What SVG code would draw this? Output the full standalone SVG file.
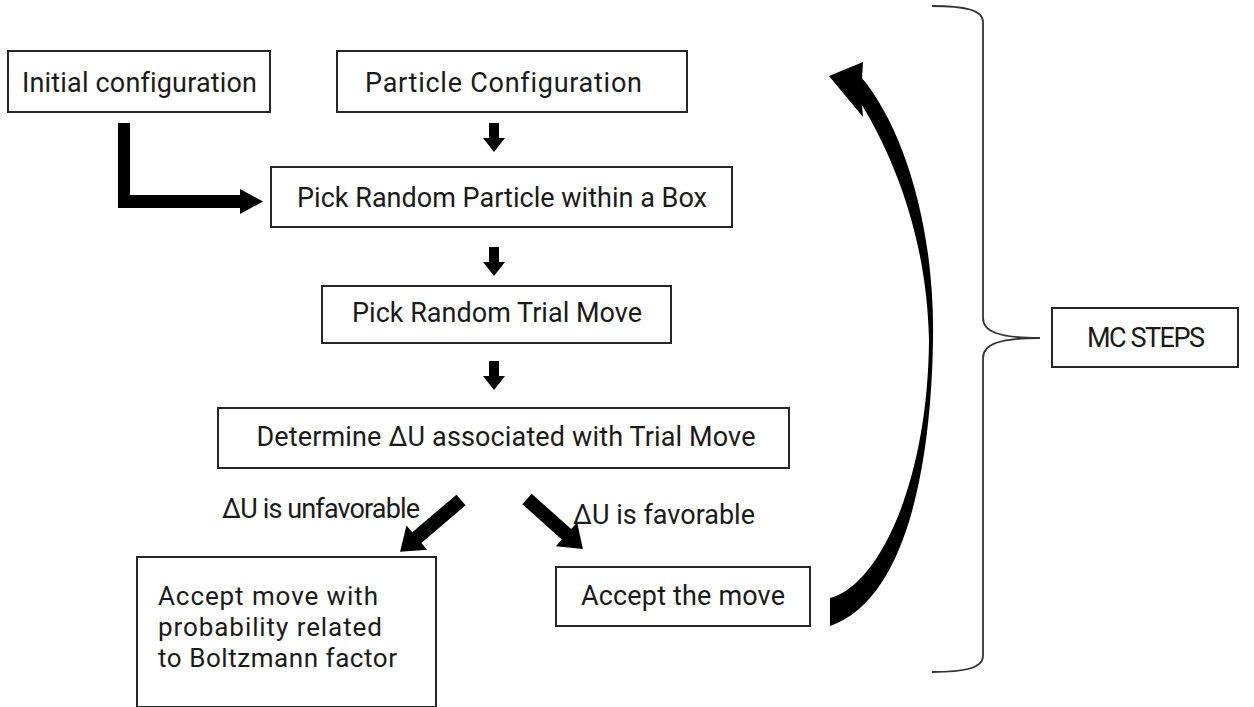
<svg xmlns="http://www.w3.org/2000/svg" width="1254" height="707" viewBox="0 0 1254 707">
<style>
.box{fill:#fff;stroke:#262626;stroke-width:2}
.t{font-family:Roboto,"Liberation Sans",sans-serif;font-size:27px;fill:#1a1a1a;font-variant-ligatures:none}
.t2{font-family:Roboto,"Liberation Sans",sans-serif;font-size:26px;fill:#1a1a1a;font-variant-ligatures:none}
.arr{fill:#000}
.brace{fill:none;stroke:#333;stroke-width:1.8}
</style>
<defs>
<path id="down" d="M-5,0 L5,0 L5,15 L11,15 L0,29 L-11,15 L-5,15 Z"/>
</defs>
<rect width="1254" height="707" fill="#fff"/>
<g id="connectors">
<path class="arr" d="M118,123 L130,123 L130,195 L240,195 L240,189 L263,201.5 L240,214 L240,208 L118,208 Z"/>
<use href="#down" x="494" y="123" class="arr"/>
<use href="#down" x="494" y="247" class="arr"/>
<use href="#down" x="494" y="361" class="arr"/>
<path class="arr" transform="translate(461,500) rotate(139.6)" d="M0,-7 L58,-7 L58,-16 L80,0 L58,16 L58,7 L0,7 Z"/>
<path class="arr" transform="translate(527,499) rotate(41.8)" d="M0,-7 L53,-7 L53,-16 L75,0 L53,16 L53,7 L0,7 Z"/>
<path class="arr" d="M829,76 L863,62 L862,78 C905,130 935,230 933,340 C931,470 905,600 830,626 L830,598 C880,585 928,480 929,340 C927,240 895,160 862,105 L863,117 Z"/>
<path class="brace" d="M932,6 C965,6 983,10 983,22 L983,318 C983,332 1000,338 1040,338 C1000,338 983,344 983,358 L983,656 C983,668 965,672 932,672"/>
</g>
<g id="n-initial">
<rect class="box" x="8" y="51" width="262" height="61"/>
<text class="t" x="139.5" y="92" text-anchor="middle" textLength="235">Initial configuration</text>
</g>
<g id="n-particle">
<rect class="box" x="337" y="51" width="350" height="61"/>
<text class="t" x="503.5" y="92" text-anchor="middle" textLength="277">Particle Configuration</text>
</g>
<g id="n-pick">
<rect class="box" x="271" y="167" width="461" height="60"/>
<text class="t" x="502" y="207" text-anchor="middle" textLength="410">Pick Random Particle within a Box</text>
</g>
<g id="n-trial">
<rect class="box" x="322" y="286" width="349" height="57"/>
<text class="t" x="497" y="322" text-anchor="middle" textLength="290">Pick Random Trial Move</text>
</g>
<g id="n-determine">
<rect class="box" x="218" y="408" width="571" height="60"/>
<text class="t" x="506" y="446" text-anchor="middle" textLength="499">Determine ΔU associated with Trial Move</text>
</g>
<g id="l-unfav">
<text class="t" x="321" y="518" text-anchor="middle" textLength="198">ΔU is unfavorable</text>
</g>
<g id="l-fav">
<text class="t" x="664" y="524" text-anchor="middle" textLength="182">ΔU is favorable</text>
</g>
<g id="n-boltz">
<rect class="box" x="137" y="557" width="299" height="150"/>
<text class="t2"><tspan x="158" y="605" textLength="220">Accept move with</tspan><tspan x="158" y="636" textLength="224">probability related</tspan><tspan x="158" y="667" textLength="239">to Boltzmann factor</tspan></text>
</g>
<g id="n-accept">
<rect class="box" x="556" y="567" width="254" height="59"/>
<text class="t" x="683" y="605" text-anchor="middle" textLength="204">Accept the move</text>
</g>
<g id="n-mc">
<rect class="box" x="1052" y="308" width="186" height="59"/>
<text class="t" x="1146" y="347" text-anchor="middle" textLength="118">MC STEPS</text>
</g>
</svg>
